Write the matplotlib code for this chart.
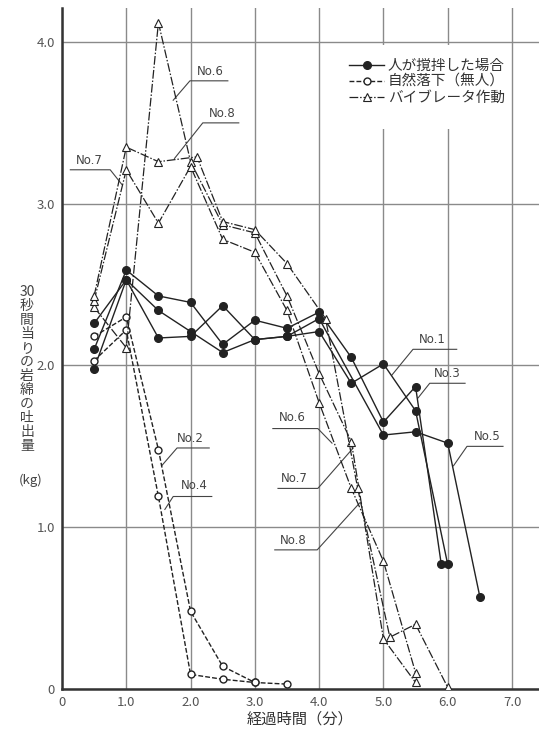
import matplotlib
matplotlib.use("Agg")
from matplotlib import pyplot as plt
from matplotlib.legend_handler import HandlerLine2D
from matplotlib.patches import Rectangle

plt.rcParams['font.family'] = ['Noto Sans CJK JP', 'DejaVu Sans']

# 人が撹拌した場合 (filled circles, solid)
no1_x = [0.5, 1.0, 1.5, 2.0, 2.5, 3.0, 3.5, 4.0, 4.5, 5.0, 5.5, 6.0]
no1_y = [2.26, 2.53, 2.17, 2.18, 2.37, 2.16, 2.18, 2.21, 1.89, 2.01, 1.72, 0.77]
no3_x = [0.5, 1.0, 1.5, 2.0, 2.5, 3.0, 3.5, 4.0, 4.5, 5.0, 5.5, 5.9]
no3_y = [2.10, 2.59, 2.43, 2.39, 2.13, 2.28, 2.23, 2.33, 2.05, 1.65, 1.87, 0.77]
no5_x = [0.5, 1.0, 1.5, 2.0, 2.5, 3.0, 3.5, 4.0, 5.0, 5.5, 6.0, 6.5]
no5_y = [1.98, 2.53, 2.34, 2.21, 2.08, 2.16, 2.18, 2.29, 1.57, 1.59, 1.52, 0.57]

# 自然落下（無人） (open circles, dashed)
no2_x = [0.5, 1.0, 1.5, 2.0, 2.5, 3.0, 3.5]
no2_y = [2.18, 2.30, 1.48, 0.48, 0.14, 0.04, 0.03]
no4_x = [0.5, 1.0, 1.5, 2.0, 2.5, 3.0]
no4_y = [2.03, 2.22, 1.19, 0.09, 0.06, 0.04]

# バイブレータ作動 (triangles, dash-dot)
no6_x = [0.5, 1.0, 1.5, 2.0, 2.5, 3.0, 3.5, 4.0, 4.5, 5.0, 5.5]
no6_y = [2.36, 2.11, 4.12, 3.26, 2.87, 2.82, 2.43, 1.95, 1.53, 0.31, 0.04]
no7_x = [0.5, 1.0, 1.5, 2.0, 2.5, 3.0, 3.5, 4.0, 4.5, 5.0, 5.5]
no7_y = [2.40, 3.21, 2.88, 3.23, 2.78, 2.70, 2.34, 1.77, 1.24, 0.79, 0.10]
no8_x = [0.5, 1.0, 1.5, 2.1, 2.5, 3.0, 3.5, 4.1, 4.6, 5.1, 5.5, 6.0]
no8_y = [2.43, 3.35, 3.26, 3.29, 2.89, 2.84, 2.63, 2.29, 1.24, 0.32, 0.40, 0.01]

x_ticks = [0, 1, 2, 3, 4, 5, 6, 7]
x_tick_labels = ["0", "1.0", "2.0", "3.0", "4.0", "5.0", "6.0", "7.0"]
y_ticks = [0, 1, 2, 3, 4]
y_tick_labels = ["0", "1.0", "2.0", "3.0", "4.0"]

legend_labels = ["人が撹拌した場合", "自然落下（無人）", "バイブレータ作動"]
y_label_text = ["30", "秒", "間", "当", "り", "の", "岩", "綿", "の", "吐", "出", "量"]

# series labels: text, text position, leader polyline (data coords)
callouts = [
    ("No.6", (2.31, 3.82), [(2.58, 3.76), (1.99, 3.76), (1.73, 3.64)]),
    ("No.8", (2.49, 3.56), [(2.75, 3.50), (2.19, 3.50), (1.75, 3.28)]),
    ("No.7", (0.42, 3.27), [(0.13, 3.21), (0.75, 3.21), (0.93, 3.12)]),
    ("No.2", (1.99, 1.55), [(2.29, 1.49), (1.79, 1.49), (1.55, 1.38)]),
    ("No.4", (2.06, 1.26), [(2.33, 1.19), (1.73, 1.19), (1.60, 1.11)]),
    ("No.1", (5.76, 2.16), [(6.14, 2.10), (5.46, 2.10), (5.13, 1.94)]),
    ("No.3", (6.00, 1.95), [(6.27, 1.89), (5.72, 1.89), (5.54, 1.80)]),
    ("No.5", (6.61, 1.56), [(6.86, 1.50), (6.30, 1.50), (6.09, 1.38)]),
    ("No.6", (3.59, 1.68), [(3.28, 1.61), (3.98, 1.61), (4.20, 1.52)]),
    ("No.7", (3.62, 1.30), [(3.36, 1.24), (3.98, 1.24), (4.53, 1.49)]),
    ("No.8", (3.59, 0.92), [(3.31, 0.86), (3.97, 0.86), (4.63, 1.15)]),
]

ink = "#222222"
grey = "#555555"

fig = plt.figure(figsize=(5.39, 7.31), dpi=100)
ax = fig.add_axes([0.115, 0.0575, 0.885, 0.9315])

stir = dict(color=ink, lw=1.0, ls="-", marker="o", ms=5.5, mfc=ink, mec=ink)
fall = dict(color=ink, lw=1.0, ls=(0, (3.5, 1.5)), marker="o", ms=5, mfc="white", mec=ink, mew=1.0)
vib = dict(color=ink, lw=0.9, ls=(0, (7, 1.5, 1.2, 1.5)), marker="^", ms=6, mfc="white", mec=ink, mew=0.8)

h1, = ax.plot(no1_x, no1_y, **stir, zorder=4)
ax.plot(no3_x, no3_y, **stir, zorder=4)
ax.plot(no5_x, no5_y, **stir, zorder=4)
h2, = ax.plot(no2_x, no2_y, **fall, zorder=4)
ax.plot(no4_x, no4_y, **fall, zorder=4)
h3, = ax.plot(no6_x, no6_y, **vib, zorder=4)
ax.plot(no7_x, no7_y, **vib, zorder=4)
ax.plot(no8_x, no8_y, **vib, zorder=4)

for text, pos, leader in callouts:
    ax.plot([p[0] for p in leader], [p[1] for p in leader], color="#444444", lw=0.8, zorder=3)
    ax.text(pos[0], pos[1], text, fontsize=8.5, color="#444444", ha="center", va="center",
            family=["DejaVu Sans"], zorder=5)

# white patch behind the legend hides the grid there
ax.add_patch(Rectangle((0.565, 0.823), 0.36, 0.122, transform=ax.transAxes,
                       facecolor="white", edgecolor="none", zorder=1))


class LeftMarker(HandlerLine2D):
    # marker sits at the left end of the legend line
    def get_xdata(self, legend, xdescent, ydescent, width, height, fontsize):
        xdata, _ = super().get_xdata(legend, xdescent, ydescent, width, height, fontsize)
        return xdata, [xdata[0]]


leg = ax.legend([h1, h2, h3], legend_labels, loc="upper left", bbox_to_anchor=(0.602, 0.925),
                handler_map={h1: LeftMarker(), h2: LeftMarker(), h3: LeftMarker()},
                numpoints=1, handlelength=2.4, handletextpad=0.25, labelspacing=0.12,
                fontsize=10.5, frameon=False, borderpad=0, borderaxespad=0)
for t in leg.get_texts():
    t.set_color("#333333")
leg.set_zorder(6)

ax.set_xlim(0, 7.42)
ax.set_ylim(0, 4.21)
ax.set_xticks(x_ticks)
ax.set_xticklabels(x_tick_labels)
ax.set_yticks(y_ticks)
ax.set_yticklabels(y_tick_labels)
ax.tick_params(length=0, labelsize=9.5, labelcolor=grey, pad=5)
ax.grid(True, color="#8a8a8a", lw=1.0, zorder=0)
ax.set_axisbelow(True)
for side in ("top", "right"):
    ax.spines[side].set_visible(False)
for side in ("left", "bottom"):
    ax.spines[side].set_linewidth(1.8)
    ax.spines[side].set_color("#333333")

ax.set_xlabel("経過時間（分）", fontsize=11, color="#333333", labelpad=1)

fig.text(0.05, 0.495, "\n".join(y_label_text), fontsize=10, color="#444444",
         ha="center", va="center", linespacing=1.0)
fig.text(0.056, 0.343, "(kg)", fontsize=9.5, color="#444444", ha="center", va="center")

fig.savefig("out.png", dpi=100)
